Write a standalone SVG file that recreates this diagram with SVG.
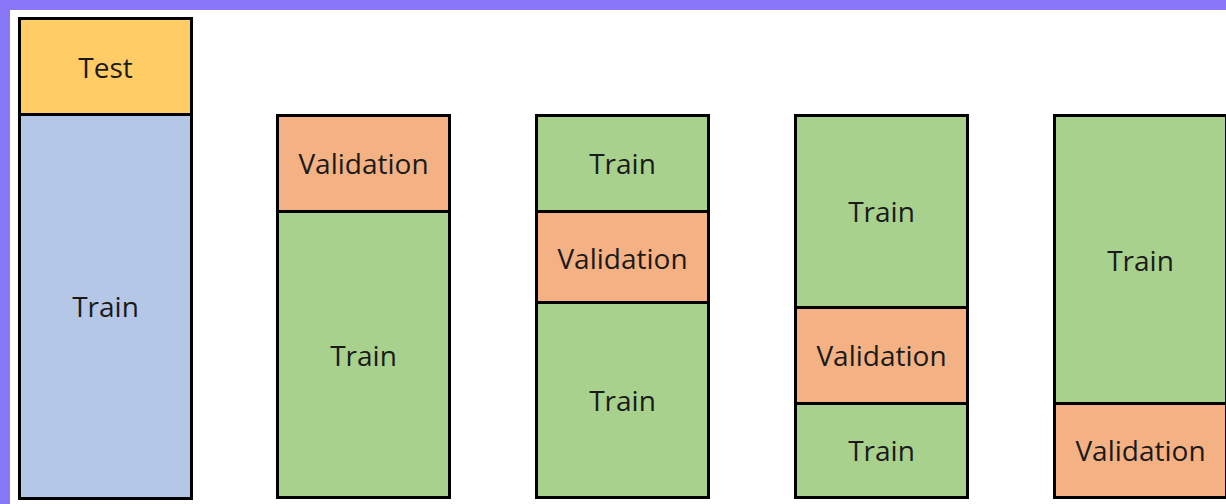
<svg xmlns="http://www.w3.org/2000/svg" width="1226" height="504" viewBox="0 0 1226 504">
<style>
.seg{stroke:#000;stroke-width:3}
.test{fill:#FFCC66}
.blue{fill:#B4C7E7}
.train{fill:#A9D18E}
.val{fill:#F4B183}
text{font-family:"Open Sans","Noto Sans",sans-serif;font-size:28px;fill:#1a1a1a;text-anchor:middle;dominant-baseline:central}
</style>
<rect x="0" y="0" width="1226" height="504" fill="#fff"/>
<rect x="0" y="0" width="1226" height="10" fill="#8878F8"/>
<rect x="0" y="0" width="10" height="504" fill="#8878F8"/>

<g id="col1-test"><rect class="seg test" x="19.5" y="18.5" width="172" height="96"/><text x="105.5" y="67">Test</text></g>
<g id="col1-train"><rect class="seg blue" x="19.5" y="114.5" width="172" height="384"/><text x="105.5" y="306">Train</text></g>

<g id="col2-val"><rect class="seg val" x="277.5" y="115.5" width="172" height="96"/><text x="363.5" y="163">Validation</text></g>
<g id="col2-train"><rect class="seg train" x="277.5" y="211.5" width="172" height="286"/><text x="363.5" y="355">Train</text></g>

<g id="col3-train1"><rect class="seg train" x="536.5" y="115.5" width="172" height="96"/><text x="622.5" y="163">Train</text></g>
<g id="col3-val"><rect class="seg val" x="536.5" y="211.5" width="172" height="91"/><text x="622.5" y="258">Validation</text></g>
<g id="col3-train2"><rect class="seg train" x="536.5" y="302.5" width="172" height="195"/><text x="622.5" y="400">Train</text></g>

<g id="col4-train1"><rect class="seg train" x="795.5" y="115.5" width="172" height="192"/><text x="881.5" y="211">Train</text></g>
<g id="col4-val"><rect class="seg val" x="795.5" y="307.5" width="172" height="96"/><text x="881.5" y="355">Validation</text></g>
<g id="col4-train2"><rect class="seg train" x="795.5" y="403.5" width="172" height="94"/><text x="881.5" y="450">Train</text></g>

<g id="col5-train"><rect class="seg train" x="1054.5" y="115.5" width="172" height="288"/><text x="1140.5" y="260">Train</text></g>
<g id="col5-val"><rect class="seg val" x="1054.5" y="403.5" width="172" height="94"/><text x="1140.5" y="450">Validation</text></g>
</svg>
